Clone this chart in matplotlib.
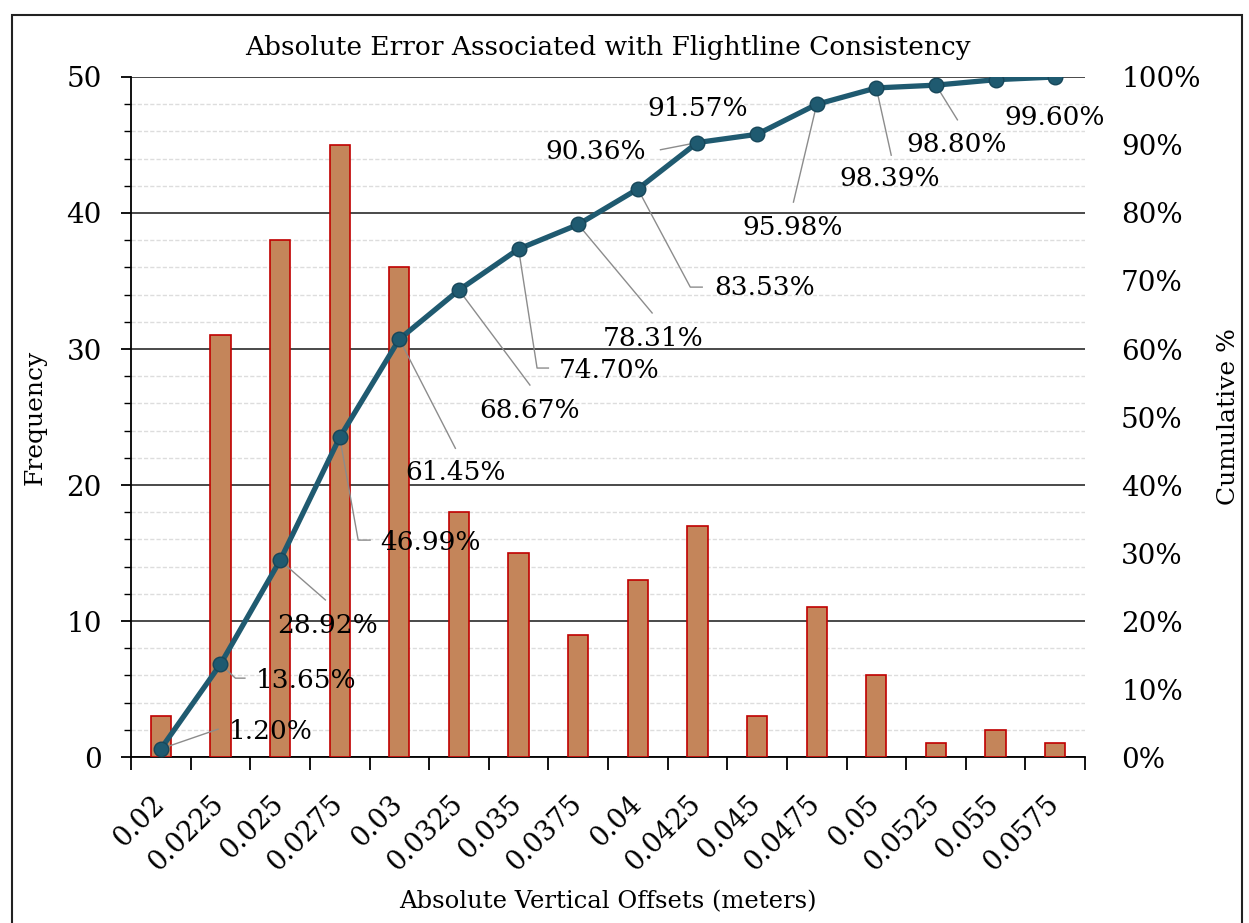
import numpy as np
import matplotlib
matplotlib.use('Agg')
import matplotlib.pyplot as plt
from matplotlib.patches import Rectangle
from matplotlib.ticker import MultipleLocator, FixedLocator
from matplotlib.transforms import ScaledTranslation

plt.rcParams['font.family'] = ['DejaVu Serif']

# data
bins = ['0.02', '0.0225', '0.025', '0.0275', '0.03', '0.0325', '0.035', '0.0375',
        '0.04', '0.0425', '0.045', '0.0475', '0.05', '0.0525', '0.055', '0.0575']
frequency = [3, 31, 38, 45, 36, 18, 15, 9, 13, 17, 3, 11, 6, 1, 2, 1]
cumulative = [1.20, 13.65, 28.92, 46.99, 61.45, 68.67, 74.70, 78.31,
              83.53, 90.36, 91.57, 95.98, 98.39, 98.80, 99.60, 100.0]
cum_labels = ['1.20%', '13.65%', '28.92%', '46.99%', '61.45%', '68.67%', '74.70%', '78.31%',
              '83.53%', '90.36%', '91.57%', '95.98%', '98.39%', '98.80%', '99.60%', '']

# label placement (x index, y %) and leader line end points: (text_xy, path)
label_pos = [
    ((1.85, 3.7), [(0.96, 4.1)]),
    ((2.44, 11.3), [(1.25, 11.6), (1.41, 11.6)]),
    ((2.79, 19.4), [(2.76, 23.1)]),
    ((4.53, 31.6), [(3.31, 31.9), (3.51, 31.9)]),
    ((4.94, 41.8), [(4.94, 45.4)]),
    ((6.19, 51.0), [(6.19, 54.7)]),
    ((7.52, 56.9), [(6.31, 57.2), (6.50, 57.2)]),
    ((8.26, 61.6), [(8.24, 65.3)]),
    ((10.12, 69.1), [(8.88, 69.1), (9.08, 69.1)]),
    ((7.30, 89.0), [(8.38, 89.3)]),
    ((9.00, 95.4), []),
    ((10.59, 77.9), [(10.61, 81.6)]),
    ((12.23, 85.1), [(12.25, 88.5)]),
    ((13.34, 90.0), [(13.36, 93.7)]),
    ((14.99, 94.1), []),
    (None, []),
]

bar_color = '#C4855A'
bar_edge = '#C00000'
line_color = '#1F5A70'

fig = plt.figure(figsize=(12.49, 9.23), dpi=100)
ax = fig.add_axes([0.1049, 0.1798, 0.7638, 0.7368])
x = np.arange(len(bins))

ax.bar(x, frequency, width=0.34, color=bar_color, edgecolor=bar_edge, linewidth=1.2, zorder=3)
ax.set_xlim(-0.5, len(bins) - 0.5)
ax.set_ylim(0, 50)

ax.yaxis.set_major_locator(MultipleLocator(10))
ax.yaxis.set_minor_locator(MultipleLocator(2))
ax.grid(which='major', axis='y', color='#3a3a3a', linewidth=1.3, zorder=0)
ax.grid(which='minor', axis='y', color='#dddddd', linewidth=1.0, linestyle=(0, (3, 1.5)), zorder=0)
ax.set_axisbelow(True)

ax.set_xticks(x)
ax.set_xticklabels(bins, rotation=45, ha='right', va='top', rotation_mode='anchor', fontsize=19.5)
ax.xaxis.set_minor_locator(FixedLocator(np.arange(-0.5, len(bins), 1.0)))
ax.tick_params(axis='x', which='major', length=0, pad=24)
ax.tick_params(axis='x', which='minor', length=9, width=1.3, direction='out')
ax.tick_params(axis='y', which='major', length=7, width=1.3, labelsize=20, pad=14)
ax.tick_params(axis='y', which='minor', length=5, width=1.0)
# nudge the rotated labels left so they end at the bar centres
shift = ScaledTranslation(-0.1, 0, fig.dpi_scale_trans)
for lab in ax.get_xticklabels():
    lab.set_transform(lab.get_transform() + shift)

for s in ['top', 'right']:
    ax.spines[s].set_visible(False)
ax.spines['left'].set_linewidth(1.3)
ax.spines['bottom'].set_linewidth(1.3)

ax.set_ylabel('Frequency', fontsize=18, labelpad=14)
ax.set_xlabel('Absolute Vertical Offsets (meters)', fontsize=17.5, labelpad=10)
ax.set_title('Absolute Error Associated with Flightline Consistency', fontsize=19, pad=16)

ax2 = ax.twinx()
ax2.set_ylim(0, 100)
ax2.yaxis.set_major_locator(MultipleLocator(10))
ax2.set_yticklabels([f'{int(v)}%' for v in ax2.get_yticks()])
ax2.tick_params(axis='y', length=0, labelsize=20, pad=26)
for s in ['top', 'right', 'left', 'bottom']:
    ax2.spines[s].set_visible(False)
ax2.set_ylabel('Cumulative %', fontsize=18, labelpad=12)

# leader lines
for i, (pos, path) in enumerate(label_pos):
    if pos is None:
        continue
    if path:
        px = [x[i]] + [p[0] for p in path]
        py = [cumulative[i]] + [p[1] for p in path]
        ax2.plot(px, py, color='#8c8c8c', linewidth=1.0, zorder=4)
    ax2.text(pos[0], pos[1], cum_labels[i], ha='center', va='center', fontsize=19, zorder=6)

ax2.plot(x, cumulative, color=line_color, linewidth=3.8, marker='o', markersize=10.5,
         markeredgecolor='#17475a', zorder=5)

fig.patches.append(Rectangle((0.0096, -0.01), 0.9848, 0.994, transform=fig.transFigure,
                             fill=False, edgecolor='#222222', linewidth=1.5))

fig.savefig('out.png', dpi=100)
